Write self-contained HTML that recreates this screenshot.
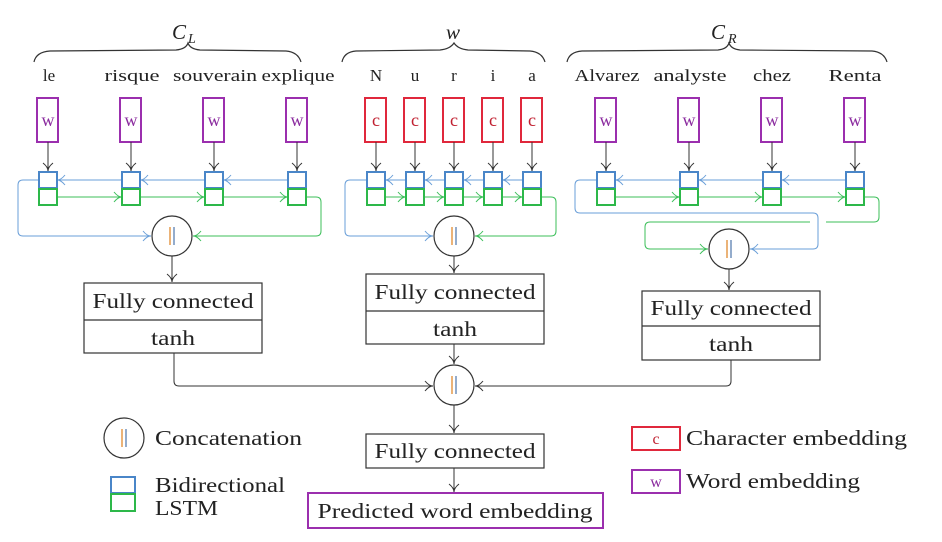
<!DOCTYPE html>
<html><head><meta charset="utf-8"><style>body{margin:0;background:#fff}svg{display:block}text{font-family:"Liberation Serif",serif}</style></head><body>
<svg width="942" height="542" viewBox="0 0 942 542" xmlns="http://www.w3.org/2000/svg">
<defs>
<marker id="ak" markerWidth="12" markerHeight="12" refX="9" refY="6" orient="auto" markerUnits="userSpaceOnUse"><path d="M1,1 Q5,6 9,6 Q5,6 1,11" fill="none" stroke="#333" stroke-width="1"/></marker>
<marker id="ab" markerWidth="12" markerHeight="12" refX="9" refY="6" orient="auto" markerUnits="userSpaceOnUse"><path d="M1,1 Q5,6 9,6 Q5,6 1,11" fill="none" stroke="#6a9fd8" stroke-width="1"/></marker>
<marker id="ag" markerWidth="12" markerHeight="12" refX="9" refY="6" orient="auto" markerUnits="userSpaceOnUse"><path d="M1,1 Q5,6 9,6 Q5,6 1,11" fill="none" stroke="#3cbf5a" stroke-width="1"/></marker>
</defs>
<g fill="none" stroke="#333" stroke-width="1.2">
<path d="M34,62 Q36,52 50,51 L176,50 Q186,49 188,43 Q190,49 200,50 L286,51 Q298,52 301,62"/>
<path d="M342,62 Q344,52 356,51 L440,50 Q450,49 454,43 Q458,49 468,50 L530,51 Q542,52 545,62"/>
<path d="M567,62 Q569,52 582,51 L718,50 Q727,49 729,43 Q731,49 740,50 L872,51 Q884,52 887,62"/>
</g>
<g font-size="21" font-style="italic" fill="#222">
<text x="172" y="39">C</text><text x="188" y="43" font-size="14">L</text>
<text x="446" y="39">w</text>
<text x="711" y="39">C</text><text x="728" y="43" font-size="14">R</text>
</g>
<g font-size="17" text-anchor="middle" fill="#222" lengthAdjust="spacingAndGlyphs">
<text x="49" y="81">le</text><text x="132" y="81" textLength="55" lengthAdjust="spacingAndGlyphs">risque</text><text x="215" y="81" textLength="84" lengthAdjust="spacingAndGlyphs">souverain</text><text x="298" y="81" textLength="73" lengthAdjust="spacingAndGlyphs">explique</text>
<text x="376" y="81">N</text><text x="415" y="81">u</text><text x="454" y="81">r</text><text x="493" y="81">i</text><text x="532" y="81">a</text>
<text x="607" y="81" textLength="65" lengthAdjust="spacingAndGlyphs">Alvarez</text><text x="690" y="81" textLength="73" lengthAdjust="spacingAndGlyphs">analyste</text><text x="772" y="81" textLength="38" lengthAdjust="spacingAndGlyphs">chez</text><text x="855" y="81" textLength="53" lengthAdjust="spacingAndGlyphs">Renta</text>
</g>
<g stroke-width="2" fill="#fff">
<g stroke="#9b2fae"><rect x="37" y="98" width="21" height="44"/><rect x="120" y="98" width="21" height="44"/><rect x="203" y="98" width="21" height="44"/><rect x="286" y="98" width="21" height="44"/>
<rect x="595" y="98" width="21" height="44"/><rect x="678" y="98" width="21" height="44"/><rect x="761" y="98" width="21" height="44"/><rect x="844" y="98" width="21" height="44"/></g>
<g stroke="#e0283c"><rect x="365" y="98" width="21" height="44"/><rect x="404" y="98" width="21" height="44"/><rect x="443" y="98" width="21" height="44"/><rect x="482" y="98" width="21" height="44"/><rect x="521" y="98" width="21" height="44"/></g>
</g>
<g font-size="18" text-anchor="middle">
<g fill="#8a2a9e"><text x="48" y="126">w</text><text x="131" y="126">w</text><text x="214" y="126">w</text><text x="297" y="126">w</text><text x="606" y="126">w</text><text x="689" y="126">w</text><text x="772" y="126">w</text><text x="855" y="126">w</text></g>
<g fill="#c02030"><text x="376" y="126">c</text><text x="415" y="126">c</text><text x="454" y="126">c</text><text x="493" y="126">c</text><text x="532" y="126">c</text></g>
</g>
<g stroke="#333" stroke-width="1" marker-end="url(#ak)">
<line x1="48" y1="142" x2="48" y2="171"/><line x1="131" y1="142" x2="131" y2="171"/><line x1="214" y1="142" x2="214" y2="171"/><line x1="297" y1="142" x2="297" y2="171"/>
<line x1="376" y1="142" x2="376" y2="171"/><line x1="415" y1="142" x2="415" y2="171"/><line x1="454" y1="142" x2="454" y2="171"/><line x1="493" y1="142" x2="493" y2="171"/><line x1="532" y1="142" x2="532" y2="171"/>
<line x1="606" y1="142" x2="606" y2="171"/><line x1="689" y1="142" x2="689" y2="171"/><line x1="772" y1="142" x2="772" y2="171"/><line x1="855" y1="142" x2="855" y2="171"/>
</g>
<g fill="none" stroke-width="1">
<g stroke="#6a9fd8" marker-end="url(#ab)">
<line x1="288" y1="180" x2="223" y2="180"/><line x1="205" y1="180" x2="140" y2="180"/><line x1="122" y1="180" x2="57" y2="180"/>
<line x1="523" y1="180" x2="502" y2="180"/><line x1="484" y1="180" x2="463" y2="180"/><line x1="445" y1="180" x2="424" y2="180"/><line x1="406" y1="180" x2="385" y2="180"/>
<line x1="846" y1="180" x2="781" y2="180"/><line x1="763" y1="180" x2="698" y2="180"/><line x1="680" y1="180" x2="615" y2="180"/>
<path d="M39,180 L23,180 Q18,180 18,185 L18,231 Q18,236 23,236 L151,236"/>
<path d="M367,180 L350,180 Q345,180 345,185 L345,231 Q345,236 350,236 L433,236"/>
<path d="M597,180 L580,180 Q575,180 575,185 L575,208 Q575,213 580,213 L813,213 Q818,213 818,218 L818,244 Q818,249 813,249 L750,249"/>
</g>
<g stroke="#3cbf5a" marker-end="url(#ag)">
<line x1="57" y1="197" x2="122" y2="197"/><line x1="140" y1="197" x2="205" y2="197"/><line x1="223" y1="197" x2="288" y2="197"/>
<line x1="385" y1="197" x2="406" y2="197"/><line x1="424" y1="197" x2="445" y2="197"/><line x1="463" y1="197" x2="484" y2="197"/><line x1="502" y1="197" x2="523" y2="197"/>
<line x1="615" y1="197" x2="680" y2="197"/><line x1="698" y1="197" x2="763" y2="197"/><line x1="781" y1="197" x2="846" y2="197"/>
<path d="M306,197 L316,197 Q321,197 321,202 L321,231 Q321,236 316,236 L193,236"/>
<path d="M541,197 L551,197 Q556,197 556,202 L556,231 Q556,236 551,236 L475,236"/>
<path d="M864,197 L874,197 Q879,197 879,202 L879,217 Q879,222 874,222 L826,222 M810,222 L650,222 Q645,222 645,227 L645,244 Q645,249 650,249 L708,249"/>
</g>
</g>
<g stroke-width="2" fill="#fff">
<g stroke="#4a86c8"><rect x="39" y="172" width="18" height="16"/><rect x="122" y="172" width="18" height="16"/><rect x="205" y="172" width="18" height="16"/><rect x="288" y="172" width="18" height="16"/>
<rect x="367" y="172" width="18" height="16"/><rect x="406" y="172" width="18" height="16"/><rect x="445" y="172" width="18" height="16"/><rect x="484" y="172" width="18" height="16"/><rect x="523" y="172" width="18" height="16"/>
<rect x="597" y="172" width="18" height="16"/><rect x="680" y="172" width="18" height="16"/><rect x="763" y="172" width="18" height="16"/><rect x="846" y="172" width="18" height="16"/></g>
<g stroke="#2db84a"><rect x="39" y="189" width="18" height="16"/><rect x="122" y="189" width="18" height="16"/><rect x="205" y="189" width="18" height="16"/><rect x="288" y="189" width="18" height="16"/>
<rect x="367" y="189" width="18" height="16"/><rect x="406" y="189" width="18" height="16"/><rect x="445" y="189" width="18" height="16"/><rect x="484" y="189" width="18" height="16"/><rect x="523" y="189" width="18" height="16"/>
<rect x="597" y="189" width="18" height="16"/><rect x="680" y="189" width="18" height="16"/><rect x="763" y="189" width="18" height="16"/><rect x="846" y="189" width="18" height="16"/></g>
</g>
<g stroke="#333" stroke-width="1.2" fill="#fff">
<circle cx="172" cy="236" r="20"/><circle cx="454" cy="236" r="20"/><circle cx="729" cy="249" r="20"/><circle cx="454" cy="385" r="20"/><circle cx="124" cy="438" r="20"/>
</g>
<g stroke-width="1.3">
<line x1="170" y1="227" x2="170" y2="245" stroke="#e08a30"/><line x1="174" y1="227" x2="174" y2="245" stroke="#5a7fb0"/>
<line x1="452" y1="227" x2="452" y2="245" stroke="#e08a30"/><line x1="456" y1="227" x2="456" y2="245" stroke="#5a7fb0"/>
<line x1="727" y1="240" x2="727" y2="258" stroke="#e08a30"/><line x1="731" y1="240" x2="731" y2="258" stroke="#5a7fb0"/>
<line x1="452" y1="376" x2="452" y2="394" stroke="#e08a30"/><line x1="456" y1="376" x2="456" y2="394" stroke="#5a7fb0"/>
<line x1="122" y1="429" x2="122" y2="447" stroke="#e08a30"/><line x1="126" y1="429" x2="126" y2="447" stroke="#5a7fb0"/>
</g>
<g stroke="#333" stroke-width="1.2" fill="#fff">
<rect x="84" y="283" width="178" height="70"/><line x1="84" y1="320" x2="262" y2="320"/>
<rect x="366" y="274" width="178" height="70"/><line x1="366" y1="311" x2="544" y2="311"/>
<rect x="642" y="291" width="178" height="69"/><line x1="642" y1="326" x2="820" y2="326"/>
<rect x="366" y="434" width="178" height="34"/>
</g>
<rect x="308" y="493" width="295" height="35" fill="#fff" stroke="#9b2fae" stroke-width="2"/>
<g stroke="#333" stroke-width="1" fill="none" marker-end="url(#ak)">
<line x1="172" y1="256" x2="172" y2="282"/><line x1="454" y1="256" x2="454" y2="273"/><line x1="729" y1="269" x2="729" y2="290"/>
<line x1="454" y1="344" x2="454" y2="364"/>
<path d="M174,353 L174,381 Q174,386 179,386 L433,386"/>
<path d="M731,360 L731,381 Q731,386 726,386 L475,386"/>
<line x1="454" y1="405" x2="454" y2="433"/><line x1="454" y1="468" x2="454" y2="492"/>
</g>
<g font-size="21" text-anchor="middle" fill="#222">
<text x="173" y="308" textLength="161" lengthAdjust="spacingAndGlyphs">Fully connected</text><text x="173" y="345" textLength="44" lengthAdjust="spacingAndGlyphs">tanh</text>
<text x="455" y="299" textLength="161" lengthAdjust="spacingAndGlyphs">Fully connected</text><text x="455" y="336" textLength="44" lengthAdjust="spacingAndGlyphs">tanh</text>
<text x="731" y="315" textLength="161" lengthAdjust="spacingAndGlyphs">Fully connected</text><text x="731" y="351" textLength="44" lengthAdjust="spacingAndGlyphs">tanh</text>
<text x="455" y="458" textLength="161" lengthAdjust="spacingAndGlyphs">Fully connected</text>
<text x="455" y="518" textLength="275" lengthAdjust="spacingAndGlyphs">Predicted word embedding</text>
</g>
<rect x="111" y="477" width="24" height="16" fill="#fff" stroke="#4a86c8" stroke-width="2"/>
<rect x="111" y="494" width="24" height="17" fill="#fff" stroke="#2db84a" stroke-width="2"/>
<rect x="632" y="427" width="48" height="23" fill="#fff" stroke="#e0283c" stroke-width="2"/>
<rect x="632" y="470" width="48" height="23" fill="#fff" stroke="#9b2fae" stroke-width="2"/>
<text x="656" y="444" font-size="16" text-anchor="middle" fill="#c02030">c</text>
<text x="656" y="487" font-size="16" text-anchor="middle" fill="#8a2a9e">w</text>
<g font-size="21" fill="#222">
<text x="155" y="445" textLength="147" lengthAdjust="spacingAndGlyphs">Concatenation</text>
<text x="155" y="492" textLength="130" lengthAdjust="spacingAndGlyphs">Bidirectional</text><text x="155" y="515" textLength="63" lengthAdjust="spacingAndGlyphs">LSTM</text>
<text x="686" y="445" textLength="221" lengthAdjust="spacingAndGlyphs">Character embedding</text>
<text x="686" y="488" textLength="174" lengthAdjust="spacingAndGlyphs">Word embedding</text>
</g>
</svg>
</body></html>
